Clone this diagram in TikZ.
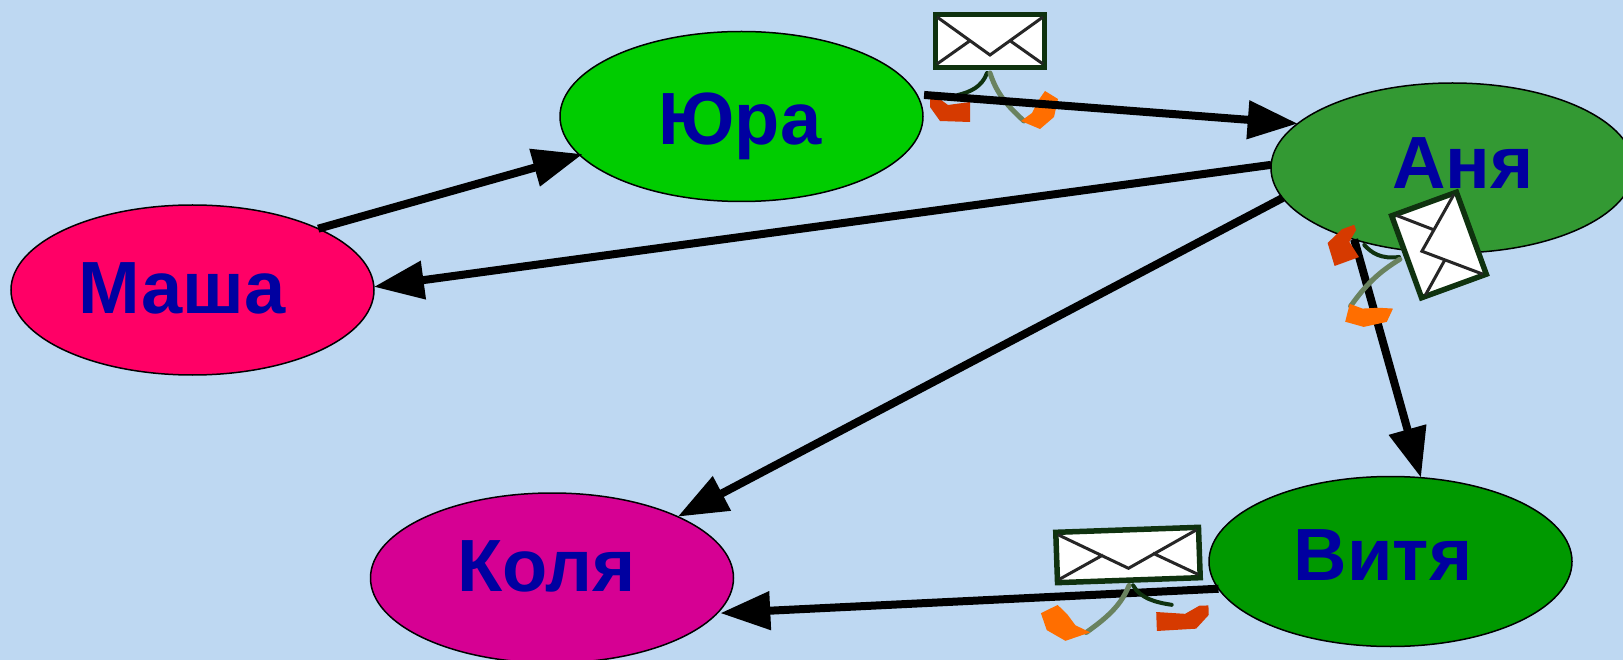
\documentclass[tikz,border=0pt]{standalone}
\usepackage{fontspec}
\setmainfont{Liberation Sans}
\usetikzlibrary{shapes.geometric,arrows.meta}
\definecolor{bgc}{RGB}{190,216,242}
\definecolor{yurac}{RGB}{0,204,0}
\definecolor{mashac}{RGB}{255,0,102}
\definecolor{anyac}{RGB}{51,153,51}
\definecolor{vityac}{RGB}{0,153,0}
\definecolor{kolyac}{RGB}{214,0,147}
\definecolor{namec}{RGB}{0,0,160}
\definecolor{redp}{RGB}{214,58,0}
\definecolor{orangep}{RGB}{255,110,0}
\definecolor{cordg}{RGB}{105,130,95}
\definecolor{cordd}{RGB}{15,50,15}
\tikzset{
  person/.style={draw=black,line width=1.5pt,shape=ellipse,minimum width=363pt,minimum height=170pt,inner sep=0pt,outer sep=0pt},
  who/.style={text=namec,font=\fontsize{74}{74}\selectfont\bfseries,inner sep=0pt,anchor=base},
  link/.style={draw=black,line width=8pt,-{Triangle[length=50pt,width=37pt]}}
}
\newcommand{\mailbody}{%
  \draw[draw=cordd,line width=4pt,line cap=round] (-3,32) .. controls (-8,46) and (-20,51) .. (-32,54);
  \draw[draw=cordg,line width=5pt,line cap=round] (0,32) .. controls (6,50) and (14,62) .. (34,80);
  \fill[redp] (-60,56) -- (-53,56) -- (-42,64) -- (-20,61) -- (-20,81) -- (-50,80) -- (-60,66) -- cycle;
  \fill[orangep] (31,80) -- (50,88) -- (64,76) -- (68,58) -- (55,50) -- (48,60) -- (42,72) -- cycle;
  \draw[draw=cordd,line width=5.5pt,fill=white] (-54.5,-26.5) rectangle (54.5,26.5);
  \draw[black!85,line width=3pt] (-53,-24) -- (0,14) -- (53,-24) (-53,23) -- (-19,-1) (53,23) -- (19,-1);
}
\begin{document}
\begin{tikzpicture}[x=1pt,y=-1pt]
\useasboundingbox (0,0) rectangle (1623,660);
\fill[bgc] (0,0) rectangle (1623,660);
\node[person,fill=yurac] (yura) at (741.5,116.5) {};
\node[person,fill=mashac] (masha) at (192.5,290) {};
\node[person,fill=anyac] (anya) at (1452.5,168) {};
\node[person,fill=vityac] (vitya) at (1390.5,561.5) {};
\node[person,fill=kolyac] (kolya) at (552,578) {};
\node[who] (tyura) at (740,145) {Юра};
\node[who] (tmasha) at (182,314) {Маша};
\node[who] (tanya) at (1463,189) {Аня};
\node[who] (tvitya) at (1383,580) {Витя};
\node[who] (tkolya) at (546.5,591) {Коля};
\begin{scope}[shift={(990,41)}]\mailbody\end{scope}
\draw[link] (masha.26.3) -- ([xshift=4pt]yura.193.6);
\draw[link] ([xshift=7pt]yura.7.4) -- (anya.164.2);
\draw[link] (anya.179) -- (masha.1.6);
\draw[link] (anya.190.7) -- (kolya.26);
\draw[link] (anya.216) -- (vitya.70.5);
\draw[link] (vitya.189.4) -- ([xshift=3pt]kolya.-12);
\begin{scope}[shift={(1439,245)},rotate=-70,xscale=.8,yscale=1.3]\mailbody\end{scope}
\begin{scope}[shift={(1128,555)},rotate=2,xscale=-1.31,yscale=.95]\mailbody\end{scope}
\end{tikzpicture}
\end{document}
